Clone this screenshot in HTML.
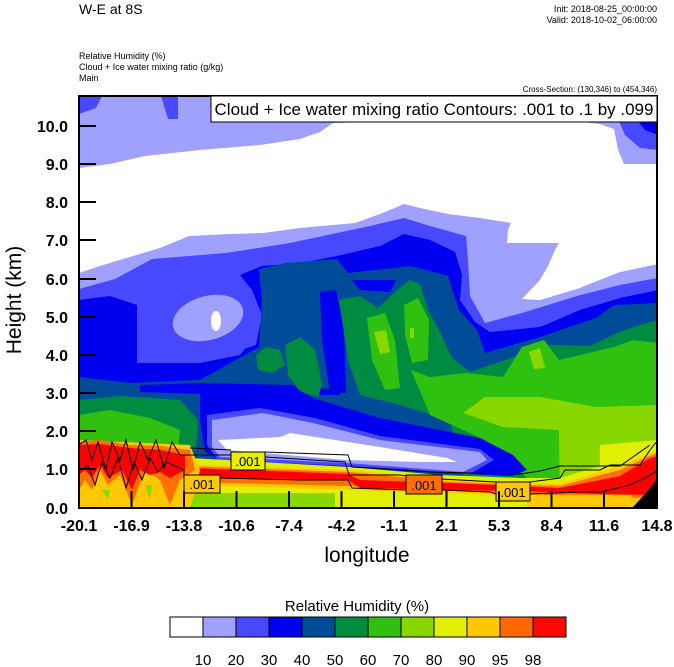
<!DOCTYPE html>
<html><head><meta charset="utf-8"><style>
html,body{margin:0;padding:0;background:#fff;}
svg{display:block;font-family:"Liberation Sans",sans-serif;}
</style></head><body>
<svg width="674" height="667" viewBox="0 0 674 667" xmlns="http://www.w3.org/2000/svg">
<defs><clipPath id="pc"><rect x="79" y="96" width="578" height="412"/></clipPath></defs>
<text x="79" y="14" font-size="14">W-E at 8S</text>
<text x="657" y="12" font-size="9" text-anchor="end">Init: 2018-08-25_00:00:00</text>
<text x="657" y="23" font-size="9" text-anchor="end">Valid: 2018-10-02_06:00:00</text>
<text x="79" y="59" font-size="9">Relative Humidity   (%)</text>
<text x="79" y="70" font-size="9">Cloud + Ice water mixing ratio   (g/kg)</text>
<text x="79" y="81" font-size="9">Main</text>
<text x="657" y="92" font-size="8" text-anchor="end">Cross-Section: (130,346) to (454,346)</text>
<g clip-path="url(#pc)">
<rect x="79" y="96" width="578" height="412" fill="#a0a0ff"/>
<path d="M79,96 L102,96 L96,108 L79,114 Z" fill="#4848ff"/>
<path d="M161,96 L178,96 L178,119 L168,119 Z" fill="#4848ff"/>
<path d="M618,119 L658,119 L658,150 L640,148 L625,135 Z" fill="#4848ff"/>
<path d="M636,119 L658,119 L658,135 L645,130 Z" fill="#0000f0"/>
<path d="M79,168 L110,164 L145,156 L200,150 L260,145 L300,139 L320,132 L333,123 L420,121 L480,122 L574,121 L600,124 L614,129 L618,150 L624,164 L658,164 L658,264 L620,272 L577,289 L540,300 L522,299 L540,280 L548,266 L555,250 L559,243 L530,243 L507,243 L508,230 L511,223 L480,218 L448,214 L420,208 L404,204 L380,214 L355,223 L300,228 L263,233 L230,234 L189,236 L160,248 L133,256 L100,266 L79,273 Z" fill="#fff"/>
<path d="M79,289 L115,279 L152,259 L226,253 L290,243 L337,233 L370,226 L404,218 L430,226 L466,236 L468,260 L470,296 L485,323 L522,313 L577,296 L620,285 L658,278 L658,508 L79,508 Z" fill="#4848ff"/>
<path d="M79,300 L110,296 L137,305 L137,363 L200,363 L256,345 L262,315 L252,290 L240,275 L262,266 L300,263 L337,256 L380,246 L404,234 L430,240 L455,252 L462,275 L460,300 L475,322 L490,332 L540,327 L580,310 L620,298 L658,290 L658,508 L79,508 Z" fill="#0000f0"/>
<path d="M137,305 L180,290 L240,282 L256,300 L256,335 L240,355 L200,363 L137,363 Z" fill="#4848ff"/>
<ellipse cx="208" cy="318" rx="36" ry="22" fill="#a0a0ff" transform="rotate(-15 208 318)"/>
<ellipse cx="216" cy="321" rx="5" ry="10" fill="#fff"/>
<path d="M79,377 L130,383 L200,380 L259,347 L262,300 L259,269 L285,263 L337,259 L348,273 L411,266 L448,276 L459,310 L477,330 L485,353 L540,337 L596,318 L614,305 L658,303 L658,508 L79,508 Z" fill="#004c98"/>
<path d="M320,292 L336,290 L344,330 L346,393 L330,392 L322,340 Z" fill="#0000f0"/>
<path d="M352,280 L396,280 L390,292 L360,290 Z" fill="#0000f0"/>
<path d="M140,385 L200,383 L290,385 L340,390 L340,395 L200,394 L140,392 Z" fill="#0000f0"/>
<path d="M256,355 L266,347 L280,350 L285,365 L272,373 L258,370 Z" fill="#008c40"/>
<path d="M285,345 L300,337 L315,350 L322,385 L318,397 L300,392 L288,375 Z" fill="#008c40"/>
<path d="M339,300 L360,296 L378,308 L395,292 L410,280 L420,284 L428,310 L440,332 L452,358 L470,372 L520,355 L550,345 L590,346 L620,332 L640,325 L658,320 L658,508 L470,508 L450,420 L400,405 L360,395 L348,360 Z" fill="#008c40"/>
<path d="M79,400 L120,396 L180,400 L198,420 L196,450 L79,452 Z" fill="#008c40"/>
<path d="M367,318 L385,313 L395,340 L400,388 L385,390 L372,360 Z" fill="#30c010"/>
<path d="M404,305 L418,298 L429,320 L428,360 L412,363 L405,335 Z" fill="#30c010"/>
<path d="M411,370 L430,377 L466,373 L503,377 L522,347 L544,340 L559,360 L580,355 L614,347 L633,340 L658,343 L658,508 L560,508 L485,440 L430,415 Z" fill="#30c010"/>
<path d="M79,415 L110,410 L150,418 L180,430 L178,450 L79,455 Z" fill="#30c010"/>
<path d="M374,332 L386,330 L390,352 L380,354 Z" fill="#88d800"/>
<path d="M410,328 L414,328 L414,338 L410,338 Z" fill="#88d800"/>
<path d="M529,352 L540,348 L545,368 L534,369 Z" fill="#88d800"/>
<path d="M463,413 L485,397 L540,397 L596,407 L658,405 L658,508 L560,508 L559,430 L503,427 Z" fill="#88d800"/>
<path d="M600,445 L658,440 L658,508 L600,508 Z" fill="#e0f000"/>
<path d="M200,385 L290,385 L313,398 L380,418 L480,438 L513,455 L527,470 L513,476 L420,472 L330,466 L220,460 L205,452 L200,420 Z" fill="#0000f0"/>
<path d="M207,415 L260,408 L315,418 L380,436 L480,449 L494,460 L470,474 L347,466 L218,460 L207,445 Z" fill="#4848ff"/>
<path d="M212,420 L263,413 L313,423 L380,440 L480,452 L487,460 L463,472 L347,463 L220,457 L212,447 Z" fill="#a0a0ff"/>
<path d="M218,440 L280,437 L290,433 L380,447 L447,458 L457,462 L420,462 L347,460 L227,450 Z" fill="#fff"/>
<path d="M190,458 L350,467 L440,475 L520,478 L560,478 L600,466 L658,452 L658,508 L79,508 L79,460 Z" fill="#e0f000"/>
<path d="M180,464 L350,470 L450,480 L560,484 L620,466 L658,450 L658,508 L590,508 L520,496 L350,490 L180,485 Z" fill="#ffc800"/>
<path d="M185,466 L350,472 L450,482 L560,486 L620,470 L658,452 L658,498 L600,497 L520,494 L350,486 L185,482 Z" fill="#ff7000"/>
<path d="M190,468 L348,474 L360,480 L450,483 L560,488 L620,476 L650,458 L658,456 L658,495 L600,494 L520,491 L450,490 L360,488 L348,480 L190,477 Z" fill="#ff0000"/>
<path d="M527,495 L632,495 L632,508 L527,508 Z" fill="#ffc800"/>
<path d="M184,493 L335,493 L335,508 L184,508 Z" fill="#88d800"/>
<path d="M79,440 L190,445 L200,470 L195,490 L190,508 L79,508 Z" fill="#ffc800"/>
<path d="M79,442 L100,440 L130,445 L160,446 L190,450 L195,470 L180,480 L170,505 L160,480 L145,470 L132,505 L120,475 L108,485 L100,470 L92,490 L85,480 L79,490 Z" fill="#ff7000"/>
<path d="M79,445 L100,444 L130,448 L160,450 L185,455 L185,470 L170,478 L160,472 L150,475 L140,470 L132,490 L122,470 L108,478 L100,465 L92,478 L85,470 L79,475 Z" fill="#ff0000"/>
<path d="M102,490 L110,490 L108,500 Z M145,485 L152,485 L150,500 Z" fill="#88d800"/>
<path d="M632,508 L645,494 L658,478 L658,508 Z" fill="#000"/>
<g fill="none" stroke="#000" stroke-width="1">
<path d="M79,445 L86,440 L92,460 L98,442 L106,470 L112,442 L120,460 L126,440 L133,470 L140,442 L148,460 L156,440 L164,468 L172,442 L180,455 L190,455 L231,455 M265,457 L345,462 L349,475 L400,475 L420,478 L460,480 L496,482 M530,482 L560,478 L565,470 L600,470 L610,465 L640,465 L650,450 L658,440"/>
<path d="M79,470 L88,466 L95,485 L102,462 L110,478 L118,458 L126,488 L134,462 L142,480 L150,458 L158,472 L166,462 L184,470 L184,475 M220,478 L300,480 L348,480 L352,488 L406,490 M442,490 L490,492 L496,494 M530,494 L580,492 L600,492 L630,485 L645,478 L658,470"/>
<path d="M190,448 L231,450 M265,452 L348,455 L352,467 L406,470 L430,472 L470,473 L520,474 L540,471 L560,466 L620,466 L650,445"/>
</g>
<g font-size="13" text-anchor="middle">
<rect x="231" y="452" width="34" height="18" fill="#e8f000" stroke="#000"/><text x="248" y="466">.001</text>
<rect x="184" y="475" width="36" height="18" fill="#ffc800" stroke="#000"/><text x="202" y="489">.001</text>
<rect x="406" y="475" width="36" height="19" fill="#ff7000" stroke="#000"/><text x="424" y="490">.001</text>
<rect x="496" y="482" width="34" height="19" fill="#ffc800" stroke="#000"/><text x="513" y="497">.001</text>
</g>
</g>
<rect x="79" y="96" width="578" height="412" fill="none" stroke="#000" stroke-width="2"/>
<rect x="211" y="96" width="446" height="26" fill="#fff" stroke="#000" stroke-width="1"/>
<text x="434" y="115" font-size="17" text-anchor="middle">Cloud + Ice water mixing ratio Contours: .001 to .1 by .099</text>
<g stroke="#000" stroke-width="2">
<line x1="79" y1="126" x2="96" y2="126"/><line x1="79" y1="164" x2="96" y2="164"/><line x1="79" y1="202" x2="96" y2="202"/><line x1="79" y1="240" x2="96" y2="240"/><line x1="79" y1="279" x2="96" y2="279"/><line x1="79" y1="317" x2="96" y2="317"/><line x1="79" y1="355" x2="96" y2="355"/><line x1="79" y1="393" x2="96" y2="393"/><line x1="79" y1="431" x2="96" y2="431"/><line x1="79" y1="469" x2="96" y2="469"/>
<line x1="131.5" y1="508" x2="131.5" y2="491"/><line x1="184" y1="508" x2="184" y2="491"/><line x1="236.5" y1="508" x2="236.5" y2="491"/><line x1="289" y1="508" x2="289" y2="491"/><line x1="341.5" y1="508" x2="341.5" y2="491"/><line x1="394" y1="508" x2="394" y2="491"/><line x1="446.5" y1="508" x2="446.5" y2="491"/><line x1="499" y1="508" x2="499" y2="491"/><line x1="551.5" y1="508" x2="551.5" y2="491"/><line x1="604" y1="508" x2="604" y2="491"/>
</g>
<g font-size="16" font-weight="bold" text-anchor="end">
<text x="68" y="132">10.0</text><text x="68" y="170">9.0</text><text x="68" y="208">8.0</text><text x="68" y="246">7.0</text><text x="68" y="285">6.0</text><text x="68" y="323">5.0</text><text x="68" y="361">4.0</text><text x="68" y="399">3.0</text><text x="68" y="437">2.0</text><text x="68" y="475">1.0</text><text x="68" y="514">0.0</text>
</g>
<g font-size="16" font-weight="bold" text-anchor="middle">
<text x="79" y="531">-20.1</text><text x="131.5" y="531">-16.9</text><text x="184" y="531">-13.8</text><text x="236.5" y="531">-10.6</text><text x="289" y="531">-7.4</text><text x="341.5" y="531">-4.2</text><text x="394" y="531">-1.1</text><text x="446.5" y="531">2.1</text><text x="499" y="531">5.3</text><text x="551.5" y="531">8.4</text><text x="604" y="531">11.6</text><text x="657" y="531">14.8</text>
</g>
<text x="367" y="562" font-size="21" text-anchor="middle">longitude</text>
<text transform="translate(21,300) rotate(-90)" font-size="21" text-anchor="middle">Height (km)</text>
<text x="357" y="611" font-size="15" text-anchor="middle">Relative Humidity  (%)</text>
<g stroke="#000" stroke-width="1">
<rect x="170" y="617" width="33" height="20" fill="#fff"/><rect x="203" y="617" width="33" height="20" fill="#a0a0ff"/><rect x="236" y="617" width="33" height="20" fill="#4848ff"/><rect x="269" y="617" width="33" height="20" fill="#0000f0"/><rect x="302" y="617" width="33" height="20" fill="#004c98"/><rect x="335" y="617" width="33" height="20" fill="#008c40"/><rect x="368" y="617" width="33" height="20" fill="#30c010"/><rect x="401" y="617" width="33" height="20" fill="#88d800"/><rect x="434" y="617" width="33" height="20" fill="#e0f000"/><rect x="467" y="617" width="33" height="20" fill="#ffc800"/><rect x="500" y="617" width="33" height="20" fill="#ff6800"/><rect x="533" y="617" width="33" height="20" fill="#ff0800"/>
</g>
<g font-size="15" text-anchor="middle">
<text x="203" y="665">10</text><text x="236" y="665">20</text><text x="269" y="665">30</text><text x="302" y="665">40</text><text x="335" y="665">50</text><text x="368" y="665">60</text><text x="401" y="665">70</text><text x="434" y="665">80</text><text x="467" y="665">90</text><text x="500" y="665">95</text><text x="533" y="665">98</text>
</g>
</svg>
</body></html>
